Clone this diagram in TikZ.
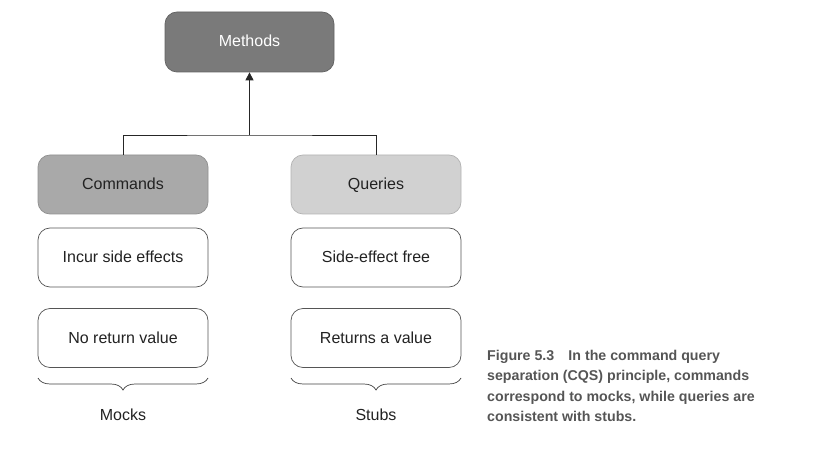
\documentclass[tikz,border=0pt]{standalone}
\usepackage{fontspec}
\setmainfont{Liberation Sans}
\usetikzlibrary{decorations.pathreplacing,arrows.meta}
\definecolor{methodsfill}{HTML}{7A7A7A}
\definecolor{cmdfill}{HTML}{A9A9A9}
\definecolor{qryfill}{HTML}{D1D1D1}
\definecolor{edge}{HTML}{555555}
\definecolor{captxt}{HTML}{555555}
\definecolor{txt}{HTML}{222222}
\begin{document}
\begin{tikzpicture}[x=1pt,y=-1pt,
  box/.style={draw=edge, line width=0.7pt, rounded corners=12pt, minimum width=170pt, minimum height=59pt, font=\fontsize{16}{18}\selectfont, text=txt, inner sep=0pt, text height=11.5pt, text depth=1.5pt},
  conn/.style={draw=black!85, line width=0.8pt},
  brc/.style={decorate, decoration={brace, amplitude=12pt, mirror}, draw=black!75, line width=0.7pt},
  lbl/.style={font=\fontsize{16}{18}\selectfont, text=txt}
]
\useasboundingbox (0,0) rectangle (825,449);
\node[box, fill=methodsfill, draw=methodsfill!80!black, text=white, minimum width=169pt, minimum height=60pt] (meth) at (249.5,42) {Methods};
\node[box, fill=cmdfill, draw=cmdfill!85!black] (cmd) at (123,184.5) {Commands};
\node[box, fill=qryfill, draw=qryfill!85!black] (qry) at (376,184.5) {Queries};
\node[box, fill=white] (incur) at (123,257.5) {Incur side effects};
\node[box, fill=white] (noret) at (123,338) {No return value};
\node[box, fill=white] (sefree) at (376,257.5) {Side-effect free};
\node[box, fill=white] (retval) at (376,338) {Returns a value};
\coordinate (junc) at (249.5,135);
\draw[conn] (cmd.north) |- (junc) -| (qry.north);
\draw[conn, -{Triangle[length=8pt,width=8pt]}] (junc) -- (meth.south);
\coordinate (bl1) at (38,378);
\coordinate (br1) at (208,378);
\coordinate (bl2) at (291,378);
\coordinate (br2) at (461,378);
\draw[brc] (bl1) -- (br1);
\draw[brc] (bl2) -- (br2);
\node[lbl] (mocks) at (123,415) {Mocks};
\node[lbl] (stubs) at (376,415) {Stubs};
\node[anchor=north west, align=left, text=captxt, font=\fontsize{14.2}{20.5}\selectfont\bfseries, inner sep=0pt] (cap) at (487,350) {Figure 5.3\hspace{1em}In the command query\\separation (CQS) principle, commands\\correspond to mocks, while queries are\\consistent with stubs.};
\end{tikzpicture}
\end{document}
